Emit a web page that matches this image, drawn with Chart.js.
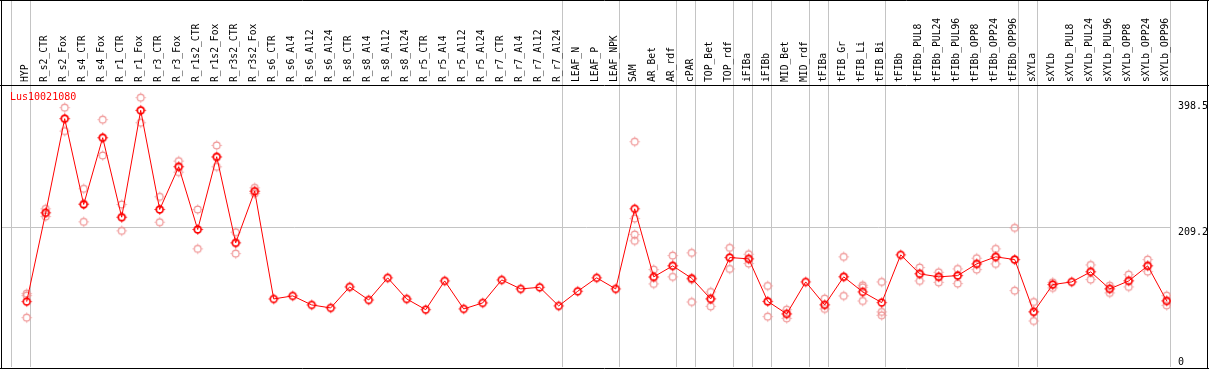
<!DOCTYPE html>
<html>
<head>
<meta charset="utf-8">
<script src="https://cdn.jsdelivr.net/npm/chart.js@4"></script>
<style>
  html, body { margin: 0; padding: 0; background: #fff; }
  #wrap { position: relative; width: 1209px; height: 370px; }
</style>
</head>
<body>
<div id="wrap"><canvas id="expr-chart" width="1209" height="370"></canvas></div>
<script>
const geneName = "Lus10021080";

const samples = [
    "HYP", "R_s2_CTR", "R_s2_Fox", "R_s4_CTR", "R_s4_Fox", "R_r1_CTR", "R_r1_Fox",
    "R_r3_CTR", "R_r3_Fox", "R_r1s2_CTR", "R_r1s2_Fox", "R_r3s2_CTR", "R_r3s2_Fox",
    "R_s6_CTR", "R_s6_Al4", "R_s6_Al12", "R_s6_Al24", "R_s8_CTR", "R_s8_Al4",
    "R_s8_Al12", "R_s8_Al24", "R_r5_CTR", "R_r5_Al4", "R_r5_Al12", "R_r5_Al24",
    "R_r7_CTR", "R_r7_Al4", "R_r7_Al12", "R_r7_Al24", "LEAF_N", "LEAF_P", "LEAF_NPK",
    "SAM", "AR_Bet", "AR_rdf", "cPAR", "TOP_Bet", "TOP_rdf", "iFIBa", "iFIBb",
    "MID_Bet", "MID_rdf", "tFIBa", "tFIB_Gr", "tFIB_Li", "tFIB_Bi", "tFIBb",
    "tFIBb_PUL8", "tFIBb_PUL24", "tFIBb_PUL96", "tFIBb_OPP8", "tFIBb_OPP24", "tFIBb_OPP96",
    "sXYLa", "sXYLb", "sXYLb_PUL8", "sXYLb_PUL24", "sXYLb_PUL96", "sXYLb_OPP8",
    "sXYLb_OPP24", "sXYLb_OPP96"
];

// mean expression per sample
const means = [
    98.3, 231.8, 373.3, 244.3, 344.7, 225.2, 385.8, 236.8, 301.0, 206.7, 316.1, 186.6, 264.3,
    102.3, 106.9, 93.3, 88.8, 120.4, 100.8, 134.0, 102.3, 86.2, 129.4, 87.3, 96.3,
    130.9, 117.4, 119.8, 91.8, 113.8, 134.0, 117.4,
    237.8, 135.5, 152.0, 133.4, 102.3, 164.5, 162.6, 98.7, 79.8, 127.9, 93.3,
    135.5, 112.9, 96.8, 168.6, 140.0, 135.5, 137.4, 155.0, 165.6, 161.5,
    82.8, 123.9, 127.9, 143.0, 117.4, 129.4, 152.0, 99.3
];

// individual replicates per sample (empty where none are shown)
const replicates = [
    [110.3, 107.3, 74.2], [237.8, 231.8, 226.2], [389.8, 373.3, 354.6], [267.9, 245.8, 218.2],
    [371.8, 344.7, 318.0], [244.3, 224.7, 204.7], [404.9, 385.8, 367.2], [255.9, 236.8, 217.6],
    [309.5, 301.5, 292.9], [236.8, 206.7, 177.6], [333.1, 315.0, 301.0], [202.6, 186.6, 170.5],
    [269.4, 263.8, 260.8],
    [], [], [], [], [], [], [], [], [], [], [], [], [], [], [], [], [], [], [],
    [338.6, 223.2, 199.1, 189.6], [146.4, 134.4, 124.9], [167.5, 152.5, 135.5],
    [171.6, 131.4, 97.8], [112.9, 102.8, 91.2], [179.1, 164.5, 147.5], [169.5, 162.6, 155.5],
    [121.9, 98.3, 75.7], [86.2, 79.8, 73.1], [], [102.8, 93.8, 87.3], [165.6, 135.9, 106.9],
    [122.8, 119.8, 99.3], [127.9, 82.8, 77.7], [], [149.5, 140.4, 129.4], [142.4, 135.9, 127.3],
    [147.5, 137.4, 125.4], [163.5, 155.0, 146.4], [177.6, 165.6, 155.0], [209.2, 161.5, 114.8],
    [97.8, 83.2, 69.2], [127.3, 123.9, 118.9], [], [153.5, 143.4, 131.4], [122.4, 117.8, 111.4],
    [138.9, 129.9, 120.4], [161.5, 152.5, 143.4], [107.3, 99.8, 92.7]
];

// group separators drawn after these sample indexes (-1 = before the first)
const groupEnds = [-1, 0, 28, 31, 34, 35, 37, 38, 39, 41, 42, 45, 52, 53, 60];

const yTicks = [209.2, 398.5];
const yMax = 422.4;

function makeMarker(color, width) {
    const c = document.createElement('canvas');
    c.width = 13;
    c.height = 13;
    const g = c.getContext('2d');
    g.strokeStyle = color;
    g.lineWidth = width;
    g.beginPath();
    g.arc(6.5, 6.5, 3.4, 0, Math.PI * 2);
    g.stroke();
    g.lineWidth = 1;
    g.beginPath();
    g.moveTo(6.5, 1.5); g.lineTo(6.5, 2.6);
    g.moveTo(6.5, 10.4); g.lineTo(6.5, 11.5);
    g.moveTo(1.5, 6.5); g.lineTo(2.6, 6.5);
    g.moveTo(10.4, 6.5); g.lineTo(11.5, 6.5);
    g.stroke();
    return c;
}

// no extra room for overhanging tick labels
function noPadding(axis) {
    axis.paddingTop = 0;
    axis.paddingBottom = 0;
    axis.paddingLeft = 0;
    axis.paddingRight = 0;
}

const meanPoints = means.map((v, i) => ({ x: i, y: v }));
const repPoints = [];
replicates.forEach((reps, i) => reps.forEach(v => repPoints.push({ x: i, y: v })));

const monoFont = { family: "'DejaVu Sans Mono', monospace", size: 9.7 };

const framePlugin = {
    id: 'frame',
    afterDraw(chart) {
        const ctx = chart.ctx;
        ctx.save();
        ctx.strokeStyle = '#000';
        ctx.lineWidth = 1;
        ctx.beginPath();
        ctx.moveTo(1.5, 0); ctx.lineTo(1.5, 369);
        ctx.moveTo(1207.5, 0); ctx.lineTo(1207.5, 369);
        ctx.moveTo(0, 0.5); ctx.lineTo(1209, 0.5);
        ctx.moveTo(0, 368.5); ctx.lineTo(1209, 368.5);
        ctx.moveTo(0, 85.5); ctx.lineTo(1209, 85.5);
        ctx.stroke();
        ctx.fillStyle = '#ff0000';
        ctx.font = "10px 'DejaVu Sans Mono', monospace";
        ctx.textBaseline = 'middle';
        ctx.fillText(geneName, 10, 97);
        ctx.restore();
    }
};

const ctx = document.getElementById('expr-chart').getContext('2d');
window.exprChart = new Chart(ctx, {
    type: 'line',
    data: {
        datasets: [{
            label: geneName,
            data: meanPoints,
            borderColor: '#ff0000',
            borderWidth: 1,
            tension: 0,
            pointStyle: makeMarker('#ff0000', 1.6),
            pointRadius: 4,
            xAxisID: 'x',
            yAxisID: 'y'
        }, {
            label: 'replicates',
            data: repPoints,
            showLine: false,
            borderColor: '#ef9090',
            pointStyle: makeMarker('#ef9090', 1.1),
            pointRadius: 4,
            xAxisID: 'x',
            yAxisID: 'y'
        }]
    },
    plugins: [framePlugin],
    options: {
        responsive: false,
        animation: false,
        layout: { autoPadding: false, padding: { left: 2, bottom: 3, top: 0, right: 0 } },
        plugins: {
            legend: { display: false },
            tooltip: { enabled: false }
        },
        scales: {
            x: {
                type: 'linear',
                position: 'top',
                weight: 0,
                min: -1.3,
                max: 60.226,
                afterBuildTicks: (axis) => { axis.ticks = groupEnds.map(k => ({ value: k + 0.21 })); },
                afterFit: (axis) => { axis.height = 0; noPadding(axis); },
                ticks: { display: false },
                border: { display: false },
                grid: { color: '#c4c4c4', lineWidth: 1, drawTicks: true, tickLength: 86 }
            },
            xLabels: {
                type: 'linear',
                position: 'top',
                weight: 1,
                min: -1.3,
                max: 60.226,
                afterBuildTicks: (axis) => { axis.ticks = samples.map((s, i) => ({ value: i })); },
                afterFit: (axis) => { axis.height = 86; noPadding(axis); },
                ticks: {
                    autoSkip: false,
                    minRotation: 90,
                    maxRotation: 90,
                    padding: 4,
                    labelOffset: 10,
                    color: '#000',
                    font: monoFont,
                    callback: (v) => samples[v]
                },
                border: { display: false },
                grid: { display: false, drawTicks: false }
            },
            y: {
                type: 'linear',
                position: 'right',
                weight: 1,
                min: 0,
                max: yMax,
                afterBuildTicks: (axis) => { axis.ticks = yTicks.map(v => ({ value: v })); },
                afterFit: (axis) => { axis.width = 38; noPadding(axis); },
                ticks: {
                    padding: 7,
                    labelOffset: 4.6,
                    color: '#000',
                    font: { family: "'DejaVu Sans Mono', monospace", size: 10 },
                    callback: (v) => v.toFixed(1)
                },
                border: { display: false },
                grid: {
                    drawTicks: false,
                    color: (c) => (c.tick && c.tick.value === 209.2) ? '#c4c4c4' : 'rgba(0,0,0,0)'
                }
            },
            yZero: {
                type: 'linear',
                position: 'right',
                weight: 0,
                min: 0,
                max: yMax,
                afterBuildTicks: (axis) => { axis.ticks = [{ value: 0 }]; },
                afterFit: (axis) => { axis.width = 0; noPadding(axis); },
                ticks: {
                    mirror: true,
                    crossAlign: 'far',
                    padding: 13,
                    labelOffset: -4.4,
                    color: '#000',
                    font: { family: "'DejaVu Sans Mono', monospace", size: 10 },
                    callback: () => '0'
                },
                border: { display: false },
                grid: { drawTicks: false, drawOnChartArea: false }
            }
        }
    }
});
</script>
</body>
</html>
